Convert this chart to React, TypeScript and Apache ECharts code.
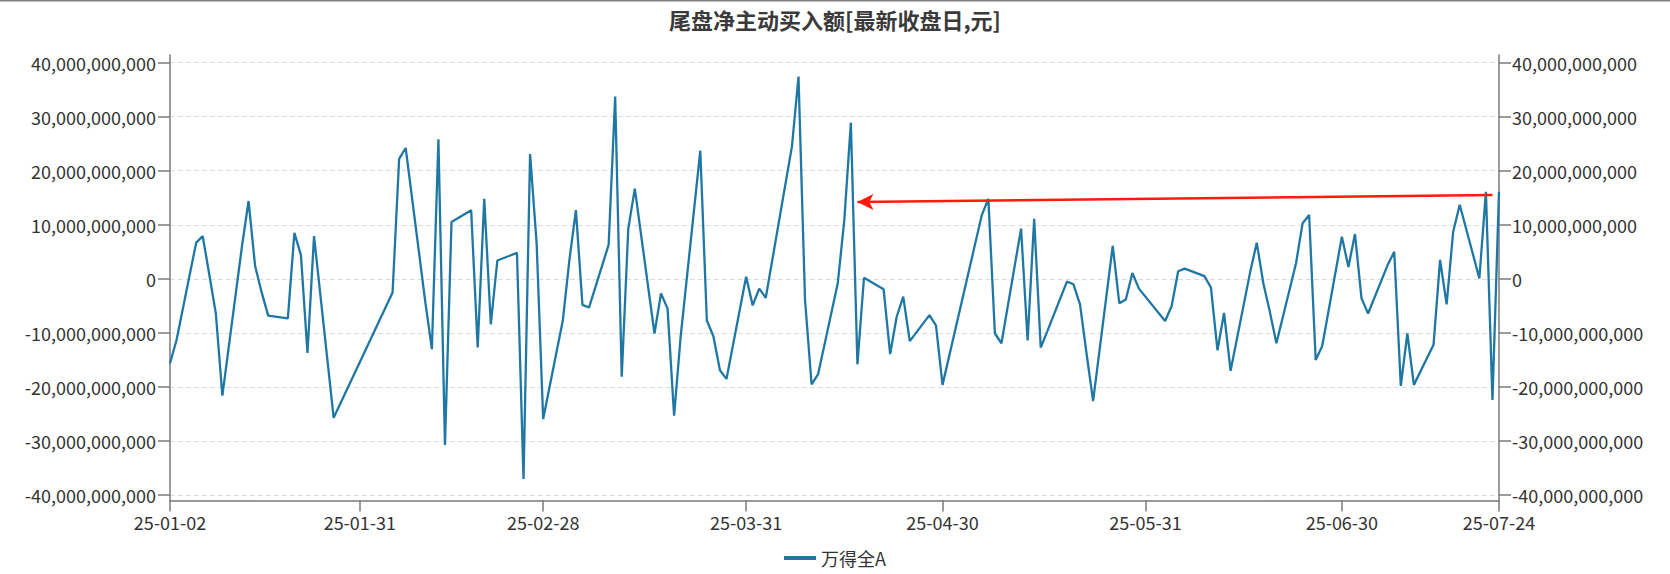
import React, { useEffect, useRef } from "react";
import * as echarts from "echarts";

// trading days (2025) and tail-session net active buying, in billions of yuan
const tradeDates: string[] = [
  "01-02","01-03","01-06","01-07","01-08","01-09","01-10","01-13","01-14","01-15","01-16","01-17","01-20","01-21","01-22","01-23","01-24","01-27",
  "02-05","02-06","02-07","02-10","02-11","02-12","02-13","02-14","02-17","02-18","02-19","02-20","02-21","02-24","02-25","02-26","02-27","02-28",
  "03-03","03-04","03-05","03-06","03-07","03-10","03-11","03-12","03-13","03-14","03-17","03-18","03-19","03-20","03-21","03-24","03-25","03-26","03-27","03-28","03-31",
  "04-01","04-02","04-03","04-07","04-08","04-09","04-10","04-11","04-14","04-15","04-16","04-17","04-18","04-21","04-22","04-23","04-24","04-25","04-28","04-29","04-30",
  "05-06","05-07","05-08","05-09","05-12","05-13","05-14","05-15","05-16","05-19","05-20","05-21","05-22","05-23","05-26","05-27","05-28","05-29","05-30",
  "06-03","06-04","06-05","06-06","06-09","06-10","06-11","06-12","06-13","06-16","06-17","06-18","06-19","06-20","06-23","06-24","06-25","06-26","06-27","06-30",
  "07-01","07-02","07-03","07-04","07-07","07-08","07-09","07-10","07-11","07-14","07-15","07-16","07-17","07-18","07-21","07-22","07-23","07-24",
];

const valuesBn: number[] = [
  -15.6, -11.3, 6.7, 7.9, 0.8, -6.4, -21.6, 6.1, 14.4, 2.4, -2.5, -6.8, -7.3, 8.5, 4.4, -13.7, 7.9, -25.7,
  -2.5, 22.2, 24.2, -4.3, -13.0, 25.8, -30.7, 10.5, 12.7, -12.7, 14.8, -8.4, 3.4, 4.8, -37.0, 23.1, 6.6, -25.9,
  -7.7, 3.4, 12.7, -4.8, -5.3, 6.3, 33.7, -18.1, 9.3, 16.7, -10.1, -2.7, -5.5, -25.3, -10.7, 23.7, -7.7, -10.6, -16.9, -18.5, 0.4,
  -4.9, -1.8, -3.5, 24.5, 37.4, -3.9, -19.5, -17.6, -0.8, 10.9, 28.9, -15.8, 0.2, -1.9, -13.9, -7.0, -3.3, -11.5, -6.7, -8.6, -19.6,
  11.8, 14.8, -10.1, -11.9, 9.3, -11.4, 11.1, -12.7, -9.7, -0.5, -1.0, -4.7, -13.8, -22.6, 6.1, -4.5, -3.8, 1.1, -1.8,
  -7.8, -5.0, 1.4, 1.9, 0.5, -1.6, -13.2, -6.3, -17.0, 1.3, 6.7, -0.8, -6.1, -11.9, 2.9, 10.3, 11.8, -15.0, -12.4, 7.8,
  2.2, 8.3, -3.6, -6.4, 2.6, 5.0, -19.8, -10.1, -19.6, -12.2, 3.5, -4.7, 8.7, 13.7, 0.1, 16.1, -22.4, 16.1,
];

const labelDates: string[] = [
  "2025-01-02", "2025-01-31", "2025-02-28", "2025-03-31",
  "2025-04-30", "2025-05-31", "2025-06-30", "2025-07-24",
];

const yTicks: number[] = [-40e9, -30e9, -20e9, -10e9, 0, 10e9, 20e9, 30e9, 40e9];

// red annotation arrow: [date, value in billions]
const arrowFrom: [string, number] = ["2025-07-23", 15.5];
const arrowTo: [string, number] = ["2025-04-17", 14.2];

const seriesName = "万得全A";
const titleText = "尾盘净主动买入额[最新收盘日,元]";

function buildCalendar(start: string, end: string): string[] {
  const out: string[] = [];
  const d = new Date(start + "T00:00:00Z");
  const e = new Date(end + "T00:00:00Z");
  while (d.getTime() <= e.getTime()) {
    out.push(d.toISOString().slice(0, 10));
    d.setUTCDate(d.getUTCDate() + 1);
  }
  return out;
}

const FONT = "'Noto Sans CJK SC', 'Noto Sans', sans-serif";

export default function App() {
  const ref = useRef<HTMLDivElement>(null);
  useEffect(() => {
    document.body.style.margin = "0";
    if (!ref.current) return;
    const chart = echarts.init(ref.current, undefined, { renderer: "svg" });

    const categories = buildCalendar("2025-01-02", "2025-07-24");
    const valueMap = new Map<string, number>();
    tradeDates.forEach((md, i) => valueMap.set("2025-" + md, valuesBn[i] * 1e9));
    const data = categories.map((c) => (valueMap.has(c) ? valueMap.get(c)! : null));
    const labelSet = new Set(labelDates);

    const fmt = (v: number) => {
      if (v === 0) return "0";
      const s = Math.abs(Math.round(v)).toString().replace(/\B(?=(\d{3})+(?!\d))/g, ",");
      return (v < 0 ? "-" : "") + s;
    };

    const axisColor = "#7a7a7a";
    const labelColor = "#333";

    const yAxisBase = {
      type: "value",
      min: -41.0e9,
      max: 41.4e9,
      axisLine: { show: true, onZero: false, lineStyle: { color: axisColor, width: 1.5 } },
      axisTick: { show: true, length: 12, customValues: yTicks, lineStyle: { color: axisColor, width: 1.5 } },
      axisLabel: {
        customValues: yTicks,
        formatter: (v: number) => fmt(v),
        color: labelColor,
        fontSize: 18,
        fontFamily: FONT,
        margin: 14,
      },
    };

    chart.setOption({
      animation: false,
      title: {
        text: titleText,
        left: "center",
        top: 3,
        textStyle: { fontSize: 22, fontWeight: "bold", color: "#3a3a3a", fontFamily: FONT },
      },
      legend: {
        data: [seriesName],
        left: "center",
        top: 544,
        icon: "rect",
        itemWidth: 32,
        itemHeight: 4,
        textStyle: { fontSize: 18, color: labelColor, fontFamily: FONT },
      },
      graphic: [
        { type: "rect", left: 0, top: 0, shape: { width: 1670, height: 1.5 }, style: { fill: "#7f7f7f" }, silent: true },
      ],
      grid: { left: 170, right: 171, top: 55, bottom: 73.4, containLabel: false, outerBoundsMode: "none" },
      xAxis: {
        type: "category",
        data: categories,
        boundaryGap: false,
        axisLine: { show: true, onZero: false, lineStyle: { color: axisColor, width: 1.5 } },
        axisTick: {
          show: true,
          length: 11,
          interval: (_i: number, v: string) => labelSet.has(v),
          lineStyle: { color: axisColor, width: 1.5 },
        },
        axisLabel: {
          interval: (_i: number, v: string) => labelSet.has(v),
          formatter: (v: string) => v.slice(2),
          color: labelColor,
          fontSize: 18,
          fontFamily: FONT,
          margin: 12,
        },
        splitLine: { show: false },
      },
      yAxis: [
        {
          ...yAxisBase,
          position: "left",
          splitLine: { show: true, lineStyle: { color: "#dcdcdc", type: [5, 3], width: 1 } },
        },
        {
          ...yAxisBase,
          position: "right",
          axisLabel: { ...yAxisBase.axisLabel, margin: 13 },
          splitLine: { show: false },
        },
      ],
      series: [
        {
          name: seriesName,
          type: "line",
          data,
          yAxisIndex: 0,
          connectNulls: true,
          symbol: "none",
          color: "#1f77a4",
          lineStyle: { width: 2.3, color: "#1f77a4" },
          markLine: {
            silent: true,
            symbol: ["none", "arrow"],
            symbolSize: [12, 16],
            label: { show: false },
            lineStyle: { color: "#ff1a0a", width: 2.5, type: "solid", opacity: 1 },
            emphasis: { disabled: true },
            data: [
              [
                { coord: [arrowFrom[0], arrowFrom[1] * 1e9] },
                { coord: [arrowTo[0], arrowTo[1] * 1e9] },
              ],
            ],
          },
        },
      ],
    });
    return () => chart.dispose();
  }, []);
  return <div ref={ref} style={{ width: 1670, height: 574 }} />;
}
